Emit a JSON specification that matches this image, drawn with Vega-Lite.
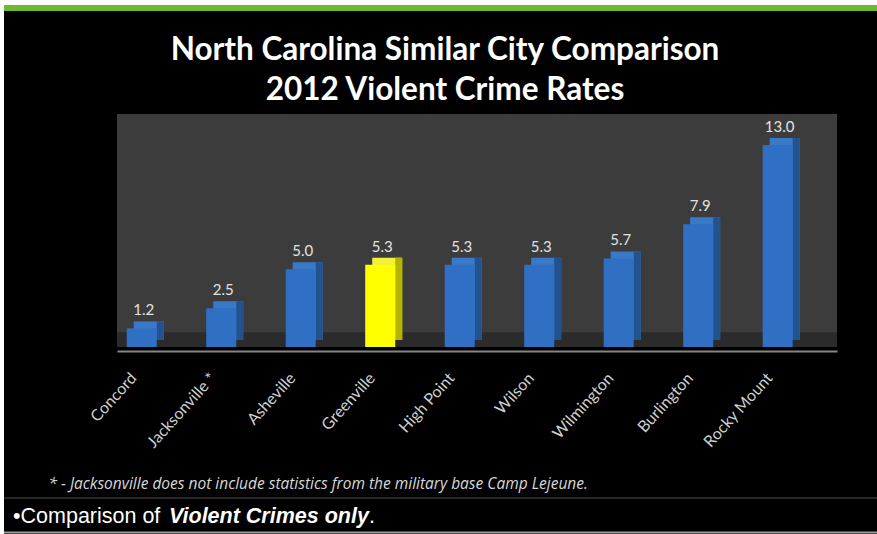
{
  "$schema": "https://vega.github.io/schema/vega-lite/v6.json",
  "width": 720,
  "height": 233,
  "autosize": "none",
  "padding": {"left": 117, "top": 114, "right": 40, "bottom": 187},
  "background": "#000000",
  "config": {"view": {"fill": "#3c3c3c", "stroke": null}, "font": "Lato"},
  "title": {
    "text": ["North Carolina Similar City Comparison", "2012 Violent Crime Rates"],
    "color": "#ffffff",
    "fontSize": 31.5,
    "fontWeight": "bold",
    "font": "Lato",
    "lineHeight": 40,
    "anchor": "middle",
    "frame": "group",
    "baseline": "alphabetic",
    "dx": -32,
    "offset": -133
  },
  "datasets": {
    "crime": [
      {"city": "Concord", "rate": 1.2},
      {"city": "Jacksonville *", "rate": 2.5},
      {"city": "Asheville", "rate": 5.0},
      {"city": "Greenville", "rate": 5.3},
      {"city": "High Point", "rate": 5.3},
      {"city": "Wilson", "rate": 5.3},
      {"city": "Wilmington", "rate": 5.7},
      {"city": "Burlington", "rate": 7.9},
      {"city": "Rocky Mount", "rate": 13.0}
    ]
  },
  "layer": [
    {
      "data": {"values": [{}]},
      "mark": {"type": "rect", "color": "#2b2b2b"},
      "encoding": {
        "y": {"datum": 0, "type": "quantitative", "scale": {"domain": [0, 15]}, "axis": null},
        "y2": {"datum": 0.95}
      }
    },
    {
      "data": {"name": "crime"},
      "mark": {"type": "bar", "xOffset": 7, "yOffset": -7, "y2Offset": -7},
      "encoding": {
        "x": {"field": "city", "type": "nominal", "sort": null,
          "scale": {"paddingInner": 0.6226, "paddingOuter": 0.34, "align": 0.18},
          "axis": {
            "title": "* - Jacksonville does not include statistics from the military base Camp Lejeune.",
            "titleFont": "Open Sans", "titleFontStyle": "italic", "titleFontWeight": "normal",
            "titleFontSize": 15.5, "titleColor": "#d8d8d8",
            "titleAnchor": "start", "titleAlign": "left", "titleX": -69, "titleY": 137,
            "titleBaseline": "alphabetic",
            "offset": 4,
            "labelAngle": -48, "labelAlign": "right", "labelBaseline": "middle",
            "labelColor": "#cfcfcf", "labelFontSize": 16, "labelFont": "Lato",
            "labelPadding": 24, "labelOffset": -8, "ticks": false,
            "domainColor": "#858585", "domainWidth": 2, "grid": false
          }},
        "y": {"field": "rate", "type": "quantitative", "scale": {"domain": [0, 15]}, "axis": null},
        "fill": {"condition": {"test": "datum.city === 'Greenville'", "value": "#f2f23a"}, "value": "#3a78c8"}
      }
    },
    {
      "data": {"name": "crime"},
      "mark": {"type": "bar", "width": 7, "xOffset": 18.5, "yOffset": -7, "y2Offset": -7},
      "encoding": {
        "x": {"field": "city", "type": "nominal", "sort": null},
        "y": {"field": "rate", "type": "quantitative", "scale": {"domain": [0, 15]}, "axis": null},
        "fill": {"condition": {"test": "datum.city === 'Greenville'", "value": "#b3b300"}, "value": "#23538f"}
      }
    },
    {
      "data": {"name": "crime"},
      "mark": {"type": "bar"},
      "encoding": {
        "x": {"field": "city", "type": "nominal", "sort": null},
        "y": {"field": "rate", "type": "quantitative", "scale": {"domain": [0, 15]}, "axis": null},
        "fill": {"condition": {"test": "datum.city === 'Greenville'", "value": "#ffff00"}, "value": "#2f6fc4"}
      }
    },
    {
      "data": {"name": "crime"},
      "mark": {"type": "text", "baseline": "alphabetic", "dy": -13, "dx": 2, "fontSize": 15, "color": "#e2e2e2", "font": "Lato"},
      "encoding": {
        "x": {"field": "city", "type": "nominal", "sort": null},
        "y": {"field": "rate", "type": "quantitative", "scale": {"domain": [0, 15]}, "axis": null},
        "text": {"field": "rate", "type": "quantitative", "format": ".1f"}
      }
    },
    {
      "data": {"values": [{}]},
      "mark": {"type": "rule", "color": "#ffffff", "strokeWidth": 5},
      "encoding": {"x": {"value": -117}, "x2": {"value": 760}, "y": {"value": -111.5}}
    },
    {
      "data": {"values": [{}]},
      "mark": {"type": "rule", "color": "#ffffff", "strokeWidth": 4},
      "encoding": {"x": {"value": -115}, "y": {"value": -114}, "y2": {"value": 420}}
    },
    {
      "data": {"values": [{}]},
      "mark": {"type": "rule", "color": "#6fba2c", "strokeWidth": 6},
      "encoding": {"x": {"value": -113}, "x2": {"value": 760}, "y": {"value": -106}}
    },
    {
      "data": {"values": [{}]},
      "mark": {"type": "rule", "color": "#333333", "strokeWidth": 1.5},
      "encoding": {"x": {"value": -113}, "x2": {"value": 760}, "y": {"value": 384}}
    },
    {
      "data": {"values": [{}]},
      "mark": {"type": "rule", "color": "#9a9a9a", "strokeWidth": 2},
      "encoding": {"x": {"value": -113}, "x2": {"value": 760}, "y": {"value": 418.5}}
    },
    {
      "data": {"values": [{"t": "•Comparison of"}]},
      "mark": {"type": "text", "align": "left", "baseline": "alphabetic", "fontSize": 21.5, "font": "Liberation Sans", "color": "#ffffff"},
      "encoding": {"x": {"value": -104}, "y": {"value": 409}, "text": {"field": "t"}}
    },
    {
      "data": {"values": [{"t": "Violent Crimes only"}]},
      "mark": {"type": "text", "align": "left", "baseline": "alphabetic", "fontSize": 21.5, "font": "Liberation Sans", "fontWeight": "bold", "fontStyle": "italic", "color": "#ffffff"},
      "encoding": {"x": {"value": 52}, "y": {"value": 409}, "text": {"field": "t"}}
    },
    {
      "data": {"values": [{"t": "."}]},
      "mark": {"type": "text", "align": "left", "baseline": "alphabetic", "fontSize": 21.5, "font": "Liberation Sans", "color": "#ffffff"},
      "encoding": {"x": {"value": 252}, "y": {"value": 409}, "text": {"field": "t"}}
    }
  ]
}
